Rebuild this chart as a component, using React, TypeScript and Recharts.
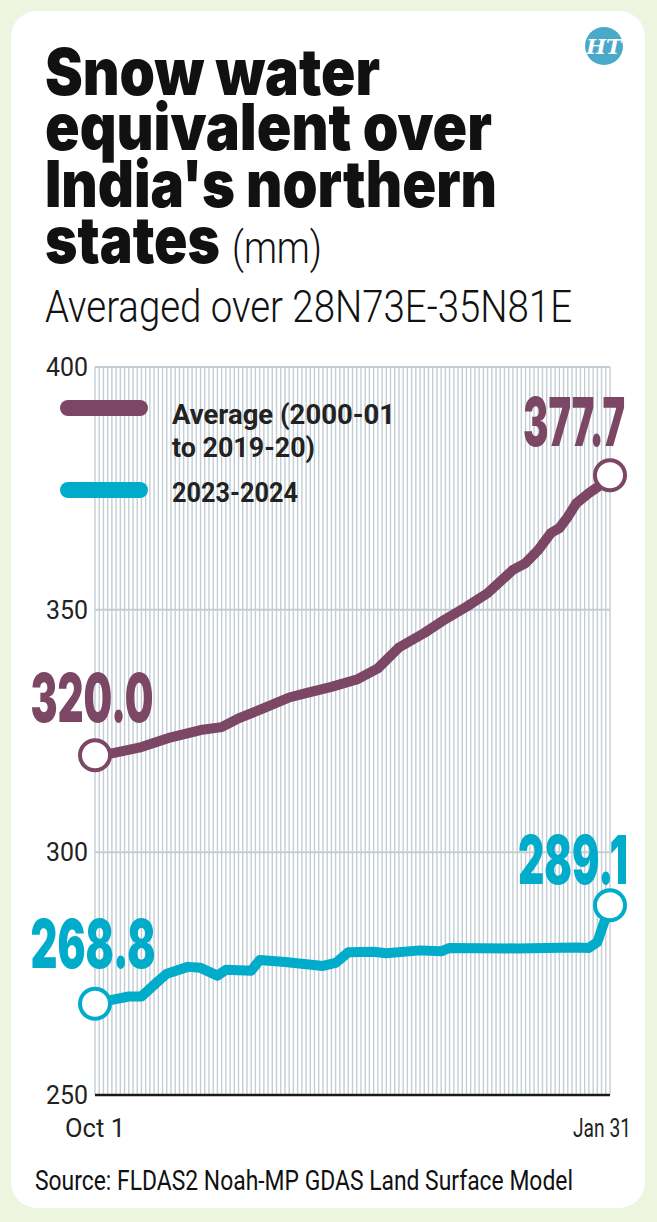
import React from "react";
import { LineChart, Line, XAxis, YAxis, CartesianGrid } from "recharts";

// Day index from Oct 1 (0) to Jan 31 (122)
const avgDays = [0, 4, 11, 18, 25, 30, 34, 40, 46, 50, 56, 62, 67, 72, 78, 82, 88, 93, 99, 102, 105, 108, 110, 112, 114, 117, 120, 122];
const avgValues = [320.0, 320.4, 321.7, 323.7, 325.2, 325.8, 327.6, 329.7, 331.9, 332.8, 334.1, 335.6, 337.9, 342.2, 345.2, 347.5, 350.6, 353.4, 358.2, 359.6, 362.3, 365.8, 366.8, 369.1, 371.9, 374.0, 375.8, 377.7];

const curDays = [0, 4, 8, 11, 15, 17, 22, 25, 29, 31, 37, 39, 45, 54, 57, 60, 66, 69, 77, 82, 84, 100, 114, 117, 119, 122];
const curValues = [268.8, 269.6, 270.3, 270.3, 273.5, 275.0, 276.4, 276.2, 274.6, 275.8, 275.6, 277.8, 277.4, 276.6, 277.2, 279.4, 279.5, 279.2, 279.8, 279.6, 280.3, 280.2, 280.4, 280.3, 281.5, 289.1];

const yTicks = [250, 300, 350, 400];
const xLabels: Record<number, string> = { 0: "Oct 1", 122: "Jan 31" };
const dayTicks = Array.from({ length: 123 }, (_, i) => i);

const PURPLE = "#7c4764";
const CYAN = "#00acc9";

const avgData = avgDays.map((d, i) => ({ day: d, value: avgValues[i] }));
const curData = curDays.map((d, i) => ({ day: d, value: curValues[i] }));

const YTick = (props: any) => {
  const { x, y, payload } = props;
  return (
    <text x={x} y={y} dy="0.36em" textAnchor="end" fontFamily="Roboto" fontWeight={400} fontSize={25} fill="#222" textLength={42} lengthAdjust="spacingAndGlyphs">
      {payload.value}
    </text>
  );
};

const XTick = (props: any) => {
  const { x, y, payload } = props;
  const label = xLabels[payload.value];
  if (!label) return <g />;
  const last = payload.value === 122;
  return (
    <text x={last ? x - 8 : x} y={y + 40} textAnchor="middle" fontFamily="Roboto" fontWeight={400} fontSize={25} fill="#222" textLength={last ? 58 : 60} lengthAdjust="spacingAndGlyphs">
      {label}
    </text>
  );
};

const makeDot = (color: string, n: number, startOff: number[], endOff: number[]) => (props: any) => {
  const { cx, cy, index, payload } = props;
  if (index !== 0 && index !== n - 1) return <g key={`d${index}`} />;
  const off = index === 0 ? startOff : endOff;
  return (
    <g key={`d${index}`}>
      <text x={cx + off[0]} y={cy + off[1]} textAnchor="middle" fontFamily="Inter" fontWeight={900} fontSize={68} fill={color} textLength={off[2]} lengthAdjust="spacingAndGlyphs">
        {payload.value.toFixed(1)}
      </text>
      <circle cx={cx} cy={cy} r={15} fill="#fff" stroke={color} strokeWidth={4} />
    </g>
  );
};

export default function App() {
  return (
    <div style={{ position: "absolute", left: 0, top: 0, width: 657, height: 1222, background: "#edf5e0", overflow: "hidden" }}>
      <div style={{ position: "absolute", left: 11, top: 11, width: 634, height: 1197, background: "#fff", borderRadius: 26 }} />
      <div style={{ position: "absolute", left: 0, top: 0 }}>
        <LineChart width={657} height={1222} data={avgData} margin={{ top: 367, right: 47, bottom: 97, left: 0 }}>
          <CartesianGrid horizontal={false} vertical={true} stroke="#c3ced4" strokeWidth={1.4} />
          <CartesianGrid horizontal={true} vertical={false} stroke="#c3ced4" strokeWidth={2} />
          <XAxis
            dataKey="day"
            type="number"
            domain={[0, 122]}
            ticks={dayTicks}
            interval={0}
            height={30}
            tickLine={false}
            tickSize={0}
            axisLine={{ stroke: "#1a1a1a", strokeWidth: 2.5 }}
            tick={<XTick />}
          />
          <YAxis
            type="number"
            domain={[250, 400]}
            ticks={yTicks}
            width={95}
            axisLine={false}
            tickLine={false}
            tickSize={0}
            tickMargin={7}
            tick={<YTick />}
          />
          <Line
            data={avgData}
            dataKey="value"
            type="linear"
            stroke={PURPLE}
            strokeWidth={10}
            strokeLinejoin="round"
            strokeLinecap="round"
            isAnimationActive={false}
            dot={makeDot(PURPLE, avgData.length, [-3, -33, 123], [-36, -29, 102])}
            activeDot={false}
          />
          <Line
            data={curData}
            dataKey="value"
            type="linear"
            stroke={CYAN}
            strokeWidth={10}
            strokeLinejoin="round"
            strokeLinecap="round"
            isAnimationActive={false}
            dot={makeDot(CYAN, curData.length, [-2, -36, 125], [-37, -21, 110])}
            activeDot={false}
          />
        </LineChart>
      </div>
      <svg width={657} height={1222} style={{ position: "absolute", left: 0, top: 0, pointerEvents: "none" }}>
        {/* Title */}
        <g fontFamily="Inter" fontWeight={900} fontSize={65} fill="#111">
          <text x={45} y={95} textLength={335} lengthAdjust="spacingAndGlyphs">Snow water</text>
          <text x={45} y={150} textLength={447} lengthAdjust="spacingAndGlyphs">equivalent over</text>
          <text x={45} y={207} textLength={452} lengthAdjust="spacingAndGlyphs">India's northern</text>
          <text x={45} y={263} textLength={175} lengthAdjust="spacingAndGlyphs">states</text>
        </g>
        <text x={232} y={263} fontFamily="Roboto" fontWeight={300} fontSize={44} fill="#111" textLength={90} lengthAdjust="spacingAndGlyphs">(mm)</text>
        <text x={45} y={322} fontFamily="Roboto" fontWeight={300} fontSize={45} fill="#111" textLength={527} lengthAdjust="spacingAndGlyphs">Averaged over 28N73E-35N81E</text>
        {/* Logo */}
        <circle cx={604} cy={46} r={19} fill="#4aa9c9" />
        <text x={604} y={54} textAnchor="middle" fontFamily="DejaVu Serif" fontWeight={700} fontStyle="italic" fontSize={21} fill="#fff">HT</text>
        {/* Legend */}
        <line x1={68} y1={408} x2={140} y2={408} stroke={PURPLE} strokeWidth={16} strokeLinecap="round" />
        <line x1={68} y1={490} x2={140} y2={490} stroke={CYAN} strokeWidth={16} strokeLinecap="round" />
        <g fontFamily="Roboto" fontWeight={700} fontSize={28} fill="#222">
          <text x={172} y={424} textLength={223} lengthAdjust="spacingAndGlyphs">Average (2000-01</text>
          <text x={172} y={457} textLength={143} lengthAdjust="spacingAndGlyphs">to 2019-20)</text>
          <text x={172} y={502} textLength={126} lengthAdjust="spacingAndGlyphs">2023-2024</text>
        </g>
        {/* Source */}
        <text x={35} y={1190} fontFamily="Roboto" fontWeight={400} fontSize={28} fill="#111" textLength={538} lengthAdjust="spacingAndGlyphs">Source: FLDAS2 Noah-MP GDAS Land Surface Model</text>
      </svg>
    </div>
  );
}
